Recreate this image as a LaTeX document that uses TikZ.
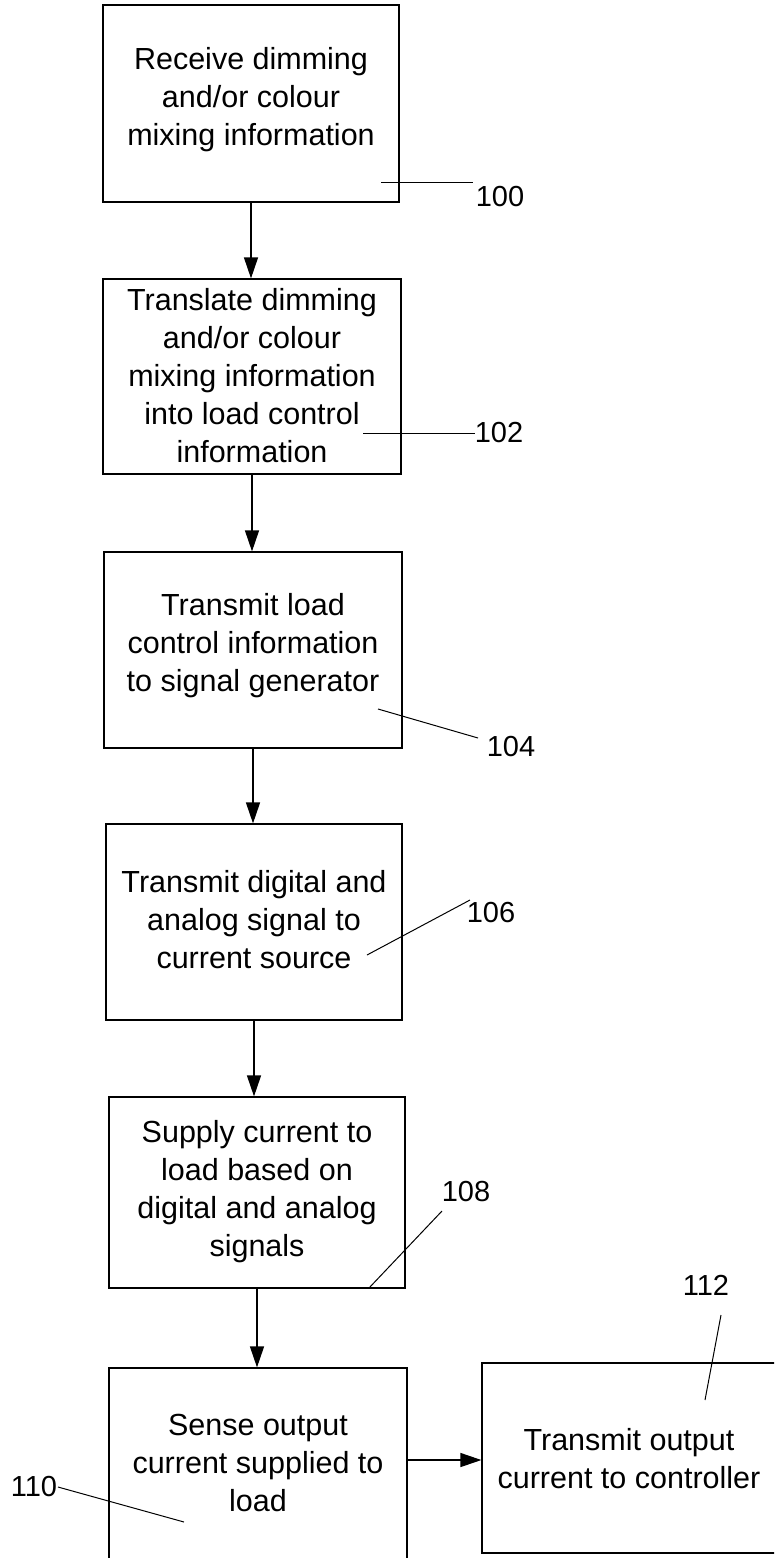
\documentclass[tikz,border=0pt]{standalone}
\usepackage{fontspec}
\setmainfont{Liberation Sans}
\usetikzlibrary{arrows.meta}
\begin{document}
\begin{tikzpicture}[x=1pt,y=-1pt,
  box/.style={draw=black, line width=1.2pt, rectangle, inner sep=0pt},
  txt/.style={align=center, font=\fontsize{30.5}{38}\selectfont, inner sep=0pt},
  lbl/.style={font=\fontsize{29}{34}\selectfont, inner sep=0pt},
  arr/.style={line width=1.2pt, -{Triangle[length=21pt,width=14pt]}},
  lead/.style={line width=1pt}]
\useasboundingbox (0,0) rectangle (774,1558);
\clip (0,0) rectangle (774,1558);
% boxes
\node[box, minimum width=296pt, minimum height=197pt] (b100) at (251,103.5) {};
\node[box, minimum width=298pt, minimum height=195pt] (b102) at (252,376.5) {};
\node[box, minimum width=298pt, minimum height=196pt] (b104) at (253,650) {};
\node[box, minimum width=296pt, minimum height=196pt] (b106) at (254,922) {};
\node[box, minimum width=296pt, minimum height=191pt] (b108) at (257,1192.5) {};
\node[box, minimum width=298pt, minimum height=202pt] (b110) at (258,1469) {};
\node[box, minimum width=294pt, minimum height=190pt] (b112) at (629,1458) {};
% texts
\node[txt] (t100) at (251,100) {Receive dimming\\and/or colour\\mixing information};
\node[txt] (t102) at (252,376) {Translate dimming\\and/or colour\\mixing information\\into load control\\information};
\node[txt] (t104) at (253,646) {Transmit load\\control information\\to signal generator};
\node[txt] (t106) at (254,920) {Transmit digital and\\analog signal to\\current source};
\node[txt] (t108) at (257,1192) {Supply current to\\load based on\\digital and analog\\signals};
\node[txt] (t110) at (258,1463) {Sense output\\current supplied to\\load};
\node[txt] (t112) at (629,1459) {Transmit output\\current to controller};
% arrows
\draw[arr] (b100.south) -- (b100.south |- b102.north);
\draw[arr] (b102.south) -- (b102.south |- b104.north);
\draw[arr] (b104.south) -- (b104.south |- b106.north);
\draw[arr] (b106.south) -- (b106.south |- b108.north);
\draw[arr] (b108.south) -- (b108.south |- b110.north);
\draw[arr] (b110.east |- 0,1460) -- (b112.west |- 0,1460);
% reference labels
\node[lbl] (l100) at (500,197) {100};
\node[lbl] (l102) at (499,433) {102};
\node[lbl] (l104) at (511,747) {104};
\node[lbl] (l106) at (491,913) {106};
\node[lbl] (l108) at (466,1192) {108};
\node[lbl] (l110) at (34,1486) {110};
\node[lbl] (l112) at (706,1285) {112};
% leader lines
\coordinate (a100) at (381,182); \coordinate (e100) at (473,182);
\coordinate (a102) at (363,433); \coordinate (e102) at (475,433);
\coordinate (a104) at (378,709); \coordinate (e104) at (478,738);
\coordinate (a106) at (367,955); \coordinate (e106) at (470,900);
\coordinate (a108) at (369,1288); \coordinate (e108) at (442,1211);
\coordinate (a110) at (184,1522); \coordinate (e110) at (58,1487);
\coordinate (a112) at (705,1400); \coordinate (e112) at (721,1315);
\draw[lead] (a100) -- (e100);
\draw[lead] (a102) -- (e102);
\draw[lead] (a104) -- (e104);
\draw[lead] (a106) -- (e106);
\draw[lead] (a108) -- (e108);
\draw[lead] (a110) -- (e110);
\draw[lead] (a112) -- (e112);
\end{tikzpicture}
\end{document}
